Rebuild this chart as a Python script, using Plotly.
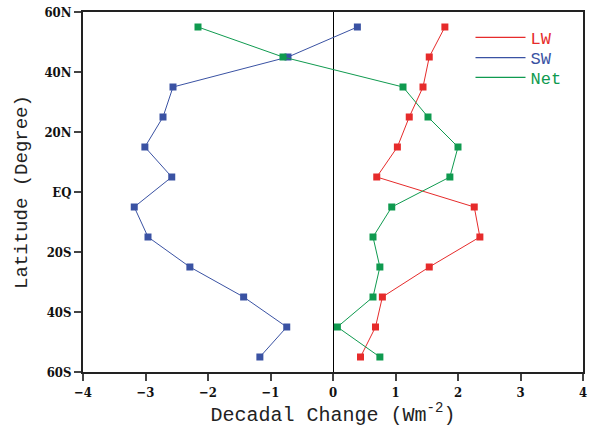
import plotly.graph_objects as go

lat = [55, 45, 35, 25, 15, 5, -5, -15, -25, -35, -45, -55]
lw = [1.79, 1.54, 1.44, 1.22, 1.03, 0.70, 2.26, 2.35, 1.54, 0.79, 0.68, 0.44]
sw = [0.39, -0.72, -2.56, -2.72, -3.01, -2.58, -3.18, -2.96, -2.29, -1.43, -0.74, -1.17]
net = [-2.16, -0.80, 1.12, 1.52, 2.00, 1.87, 0.94, 0.64, 0.75, 0.64, 0.07, 0.75]

ytick_vals = [60, 40, 20, 0, -20, -40, -60]
ytick_text = ["60N", "40N", "20N", "EQ", "20S", "40S", "60S"]
xtick_vals = [-4, -3, -2, -1, 0, 1, 2, 3, 4]

series = [("LW", lw, "#e62b2b"), ("SW", sw, "#3a52a3"), ("Net", net, "#0f9a4f")]
legend_ids = ["legend", "legend2", "legend3"]
legend_y = [0.928, 0.872, 0.817]

fig = go.Figure()
for name, vals, col in series:
    fig.add_trace(go.Scatter(x=vals, y=lat, mode="lines+markers", showlegend=False,
                             line=dict(color=col, width=1),
                             marker=dict(symbol="square", size=7, color=col)))
for (name, vals, col), lid in zip(series, legend_ids):
    fig.add_trace(go.Scatter(x=[None], y=[None], mode="lines", legend=lid,
                             name=f"<span style='color:{col}'>{name}</span>",
                             line=dict(color=col, width=1.3)))

tickfont = dict(family="DejaVu Serif Condensed", size=13, color="#111", weight="bold")
titlefont = dict(family="Liberation Mono", size=20, color="#222")

legend_common = dict(x=0.775, xanchor="left", yanchor="middle", itemwidth=50,
                     bgcolor="rgba(0,0,0,0)",
                     font=dict(family="Liberation Mono", size=17))

fig.update_layout(
    width=591, height=430,
    margin=dict(l=83, r=8, t=12, b=58, autoexpand=False),
    plot_bgcolor="white", paper_bgcolor="white",
    legend=dict(y=legend_y[0], **legend_common),
    legend2=dict(y=legend_y[1], **legend_common),
    legend3=dict(y=legend_y[2], **legend_common),
    xaxis=dict(range=[-4, 4], tickvals=xtick_vals, ticks="outside", ticklen=7,
               tickwidth=1.5, showline=True, linewidth=2, linecolor="#222",
               mirror=True, showgrid=False, zeroline=True, zerolinecolor="black",
               zerolinewidth=1, tickfont=tickfont,
               title=dict(text="Decadal Change (Wm<sup>-2</sup>)", font=titlefont,
                          standoff=8)),
    yaxis=dict(range=[-60, 60], tickvals=ytick_vals, ticktext=ytick_text,
               ticks="outside", ticklen=7, tickwidth=1.5, showline=True,
               linewidth=2, linecolor="#222", mirror=True, showgrid=False,
               zeroline=False, tickfont=tickfont,
               title=dict(text="Latitude (Degree)",
                          font=dict(family="Liberation Mono", size=19, color="#222"),
                          standoff=12)),
)

# remove the default 8px page margin so the figure fills the window exactly
fig.write_html("out.html", config={"displayModeBar": False},
               post_script="document.body.style.margin='0';")
